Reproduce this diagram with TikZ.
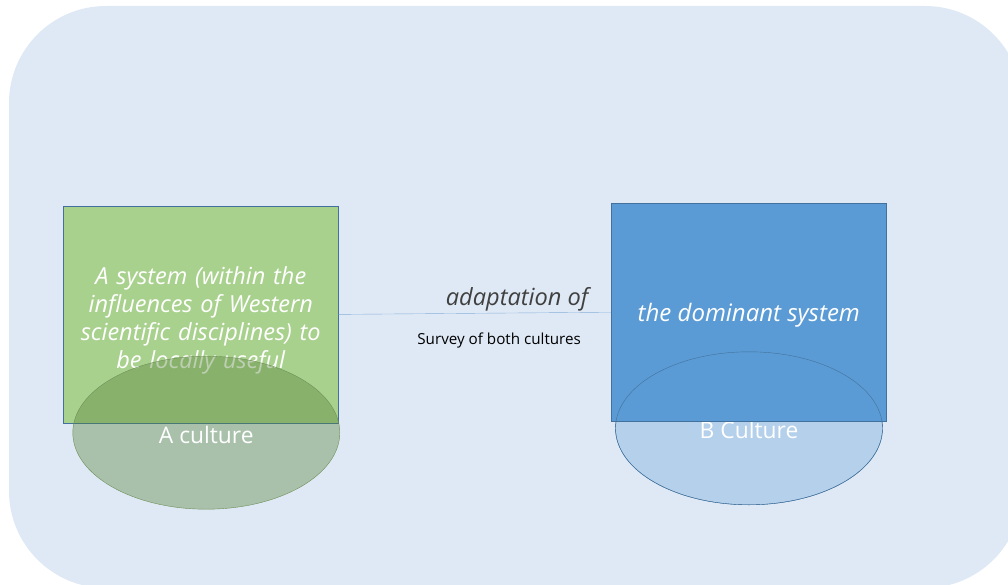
\documentclass[tikz,border=0pt]{standalone}
\usepackage{fontspec}
\setmainfont{Open Sans}
\usepackage{tikz}
\usetikzlibrary{shapes}
\definecolor{bgblue}{HTML}{DEE9F5}
\definecolor{leafgreen}{HTML}{A9D18E}
\definecolor{darkgreen}{HTML}{548235}
\definecolor{rimgreen}{HTML}{6F8F57}
\definecolor{skyblue}{HTML}{5B9BD5}
\definecolor{paleblue}{HTML}{B4D0EB}
\definecolor{edgeblue}{HTML}{41719C}
\definecolor{lineblue}{HTML}{8AB0DA}
\definecolor{labelgray}{HTML}{404040}
\tikzstyle{sysbox} = [draw=edgeblue, thin, rectangle, text=white, align=center, inner sep=0pt]
\tikzstyle{culture} = [ellipse, thin, text=white, inner sep=0pt, minimum width=267pt, minimum height=153pt,
        text height=21.5pt, font=\fontsize{22.8}{26}\selectfont]

\begin{document}
\begin{tikzpicture}[x=1pt, y=-1pt, thick, font=\fontsize{15.2}{18}\selectfont]
        \useasboundingbox (0,0) rectangle (1008,585);
        \path[fill=bgblue, rounded corners=97pt] (9,6) rectangle (1022,588);
        % A side
        \path[] node[sysbox, fill=leafgreen, minimum width=275pt, minimum height=216.7pt, text width=270pt,
                font=\fontsize{23.5}{28}\selectfont\itshape] (asys) at (200.8,314.4)
                {\rule{0pt}{30pt}A system (within the\\influences of Western\\scientific disciplines) to\\be locally useful};
        \path[] node[culture, draw=rimgreen, fill=darkgreen, fill opacity=0.38, text opacity=1] (aculture) at (206.3,432.7) {A culture};
        % B side
        \path[] node[culture, draw=edgeblue, fill=paleblue] (bculture) at (749,428.3) {B Culture};
        \path[] node[sysbox, fill=skyblue, minimum width=275.7pt, minimum height=217.7pt,
                font=\fontsize{24}{28}\selectfont\itshape] (bsys) at (748.8,312.2) {\rule{0pt}{24pt}the dominant system};
        \draw[edgeblue, thin] (bculture.center) ellipse (133.5pt and 76.5pt);
        % survey link
        \path[lineblue, thin] (asys.east) edge
                node[pos=0.656, above, inner sep=1.5pt, text=labelgray, font=\fontsize{23.6}{28}\selectfont\itshape] {adaptation of}
                node[pos=0.59, below, inner sep=20pt, text=black] {Survey of both cultures} (bsys.west);
      \end{tikzpicture}
\end{document}
